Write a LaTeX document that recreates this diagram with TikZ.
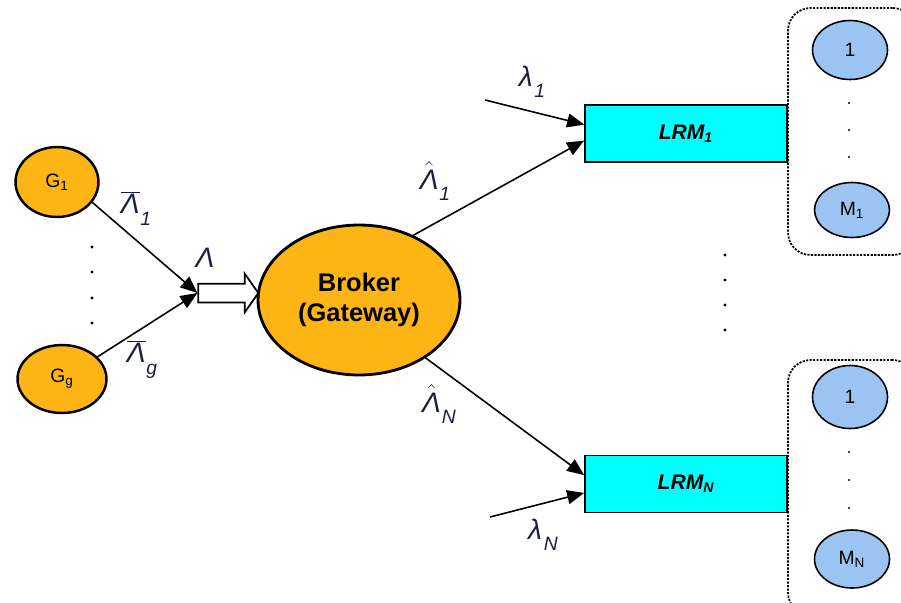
\documentclass[tikz,border=0pt]{standalone}
\usepackage{fontspec}
\setmainfont{Liberation Sans}
\usetikzlibrary{arrows.meta, positioning, shapes.geometric, shapes.arrows, calc}

\definecolor{gworange}{HTML}{FDB515}
\definecolor{lrmcyan}{HTML}{00FFFF}
\definecolor{mcblue}{HTML}{9CC4F2}
\definecolor{labnavy}{HTML}{1A1F3D}

\newcommand{\subl}[1]{\raisebox{-0.75ex}{\fontsize{11}{12}\selectfont #1}}
\newcommand{\barlam}[1]{$\overline{\hbox{\itshape Λ}}$\kern0.5pt\subl{#1}}
\newcommand{\hatlam}[1]{$\hat{\hbox{\itshape Λ}}$\kern0.5pt\subl{#1}}
\newcommand{\smalllam}[1]{λ\kern1pt\subl{#1}}

\begin{document}
\begin{tikzpicture}[
  x=0.02cm, y=-0.02cm,
  every node/.style={font=\fontsize{11}{13}\selectfont},
  gnode/.style={ellipse, draw=black, line width=1.4pt, fill=gworange, inner sep=0pt},
  broker/.style={ellipse, draw=black, line width=1.6pt, fill=gworange, align=center, inner sep=0pt, minimum width=4.04cm, minimum height=3cm, font=\fontsize{14.5}{17}\selectfont\bfseries},
  lrm/.style={rectangle, draw=black, line width=1pt, fill=lrmcyan, minimum width=4.04cm, minimum height=1.14cm, font=\fontsize{12}{14}\selectfont\bfseries\itshape},
  machine/.style={ellipse, draw=black, line width=0.9pt, fill=mcblue, minimum width=1.5cm, minimum height=1.18cm, inner sep=0pt},
  group/.style={rectangle, rounded corners=0.45cm, draw=black, line width=1pt, dash pattern=on 1.2pt off 0.8pt, minimum width=2.54cm},
  lab/.style={text=labnavy, font=\fontsize{16}{18}\selectfont\itshape, inner sep=1pt},
  line/.style={-{Triangle[length=3.4mm, width=2.8mm]}, line width=0.9pt}
]
\useasboundingbox (0,0) rectangle (901,602);

% sources
\node[gnode, minimum width=1.66cm, minimum height=1.4cm] (g1) at (57,182) {G\textsubscript{1}};
\node[gnode, minimum width=1.78cm, minimum height=1.36cm] (gg) at (62,379) {G\textsubscript{g}};
\foreach \y in {247,272,298,323} \fill (92,\y) circle (1.6);

% aggregated flow into the broker
\node[single arrow, draw=black, line width=1pt, fill=white, inner sep=0pt,
  minimum height=1.2cm, single arrow head extend=0.2cm,
  single arrow tip angle=110] (flow) at (225,293) {\rule{0pt}{0.34cm}};
\node[broker] (gw) at (359,300) {Broker\\(Gateway)};

% local resource managers
\node[lrm] (lrm1) at (686,133.5) {LRM\textsubscript{1}};
\node[lrm] (lrmn) at (686,484) {LRM\textsubscript{N}};
\foreach \y in {255,280,305,330} \fill (725,\y) circle (1.6);

% machine groups
\node[group, minimum height=4.94cm] (grp1) at (851.5,131.5) {};
\node[machine] (m11) at (850,50) {1};
\node[machine, minimum height=1.1cm] (m1m) at (852,210) {M\textsubscript{1}};
\foreach \y in {103,130,157} \fill (849,\y) circle (1.2);

\node[group, minimum height=5.1cm] (grpn) at (851.5,487.5) {};
\node[machine, minimum height=1.26cm] (mn1) at (850,397) {1};
\node[machine, minimum height=1.16cm] (mnm) at (852,559) {M\textsubscript{N}};
\foreach \y in {452,480,508} \fill (849,\y) circle (1.2);

\coordinate (in1) at (485,100);
\coordinate (inn) at (490,517);

\draw[line] (g1.-30) -- (flow.west);
\draw[line] (gg.32) -- (flow.west);
\draw[line] (gw.50) -- (lrm1.184);
\draw[line] (gw.-41) -- (lrmn.175);
\draw[line] (in1) -- (lrm1.175);
\draw[line] (inn) -- (lrmn.185);

\node[lab] (l1) at (136,208) {\barlam{1}};
\node[lab] (lg) at (142,359) {\barlam{g}};
\node[lab] (lsum) at (205,258) {Λ};
\node[lab] (h1) at (435,181) {\hatlam{1}};
\node[lab] (hn) at (439,404) {\hatlam{N}};
\node[lab] (s1) at (532,82) {\smalllam{1}};
\node[lab] (sn) at (543,535) {\smalllam{N}};
\end{tikzpicture}
\end{document}
